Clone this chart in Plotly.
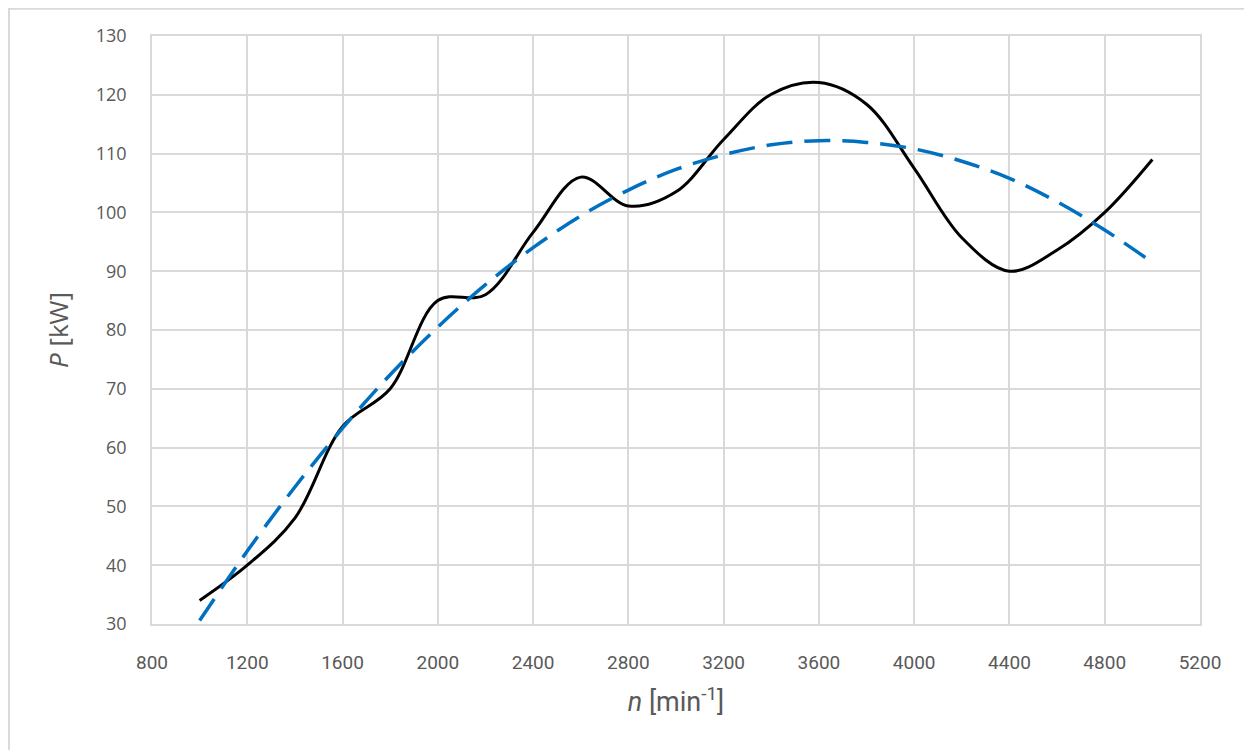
import plotly.graph_objects as go

# engine speed [min^-1] and measured power [kW]
rpm = [1000, 1200, 1400, 1600, 1800, 2000, 2200, 2400, 2600, 2800, 3000,
       3200, 3400, 3600, 3800, 4000, 4200, 4400, 4600, 4800, 5000]
power = [34.0, 40.0, 48.0, 63.6, 70.0, 85.0, 86.0, 96.6, 106.0, 101.1, 103.5,
         112.4, 120.1, 122.1, 118.4, 107.5, 95.7, 90.0, 93.6, 100.0, 109.0]

# polynomial trend line
trend = [30.6, 42.4, 53.3, 63.3, 72.4, 80.5, 87.7, 94.0, 99.4, 103.8, 107.3,
         109.8, 111.5, 112.2, 111.9, 110.8, 108.7, 105.8, 101.8, 97.0, 91.5]

x_ticks = list(range(800, 5201, 400))
y_ticks = list(range(30, 131, 10))

GRID = "#d9d9d9"
TEXT = "#595959"
FONT = "Open Sans"
NARROW = "Liberation Sans Narrow, Roboto, sans-serif"

fig = go.Figure()

fig.add_trace(
    go.Scatter(
        x=rpm,
        y=power,
        mode="lines",
        name="P",
        line=dict(color="black", width=3, shape="spline", smoothing=1.0),
    )
)

fig.add_trace(
    go.Scatter(
        x=rpm,
        y=trend,
        mode="lines",
        name="trend",
        line=dict(color="#0070C0", width=3.5, dash="26px,12px", shape="spline", smoothing=1.0),
    )
)

# thin grey frame around the whole chart
fig.add_shape(
    type="rect",
    xref="paper",
    yref="paper",
    x0=-0.1365,
    x1=1.06,
    y0=-0.25,
    y1=1.0465,
    line=dict(color=GRID, width=2),
    layer="below",
)

fig.update_layout(
    width=1244,
    height=742,
    template="plotly_white",
    plot_bgcolor="white",
    paper_bgcolor="white",
    showlegend=False,
    margin=dict(l=144, r=52, t=28, b=126),
    font=dict(family=FONT, color=TEXT),
    xaxis=dict(
        range=[800, 5200],
        tickvals=x_ticks,
        ticktext=[str(v) for v in x_ticks],
        showgrid=True,
        gridcolor=GRID,
        gridwidth=1.5,
        showline=True,
        linecolor=GRID,
        linewidth=1.5,
        mirror=True,
        zeroline=False,
        ticks="",
        ticklabelstandoff=20,
        tickfont=dict(size=19, color=TEXT, family=NARROW),
        title=dict(
            text="<i>n</i> [min<sup>-1</sup>]",
            font=dict(size=27, color=TEXT, family=NARROW),
            standoff=20,
        ),
    ),
    yaxis=dict(
        range=[30, 130],
        tickvals=y_ticks,
        showgrid=True,
        gridcolor=GRID,
        gridwidth=1.5,
        showline=True,
        linecolor=GRID,
        linewidth=1.5,
        mirror=True,
        zeroline=False,
        ticks="",
        ticklabelstandoff=20,
        tickfont=dict(size=18, color=TEXT, family=FONT),
        title=dict(
            text="<i>P</i> [kW]",
            font=dict(size=26, color=TEXT, family=FONT),
            standoff=20,
        ),
    ),
)

fig.write_html("out.html")
